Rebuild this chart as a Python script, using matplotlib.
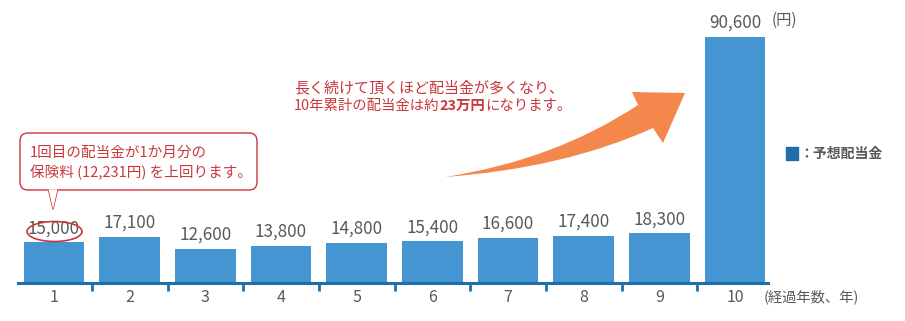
import matplotlib
matplotlib.use("Agg")
import matplotlib.pyplot as plt
from matplotlib.patches import FancyBboxPatch, Ellipse, Polygon, PathPatch
from matplotlib.path import Path

plt.rcParams['font.family'] = ['Noto Sans CJK JP', 'DejaVu Sans']

years = [1, 2, 3, 4, 5, 6, 7, 8, 9, 10]
dividends = [15000, 17100, 12600, 13800, 14800, 15400, 16600, 17400, 18300, 90600]
value_labels = ["15,000", "17,100", "12,600", "13,800", "14,800", "15,400",
                "16,600", "17,400", "18,300", "90,600"]
tick_labels = ["1", "2", "3", "4", "5", "6", "7", "8", "9", "10"]

BAR = "#4495d1"
AXIS = "#1f6ea8"
GRAY = "#595959"
RED = "#c9373c"
ORANGE = "#f4874b"

W, H = 905, 321
fig = plt.figure(figsize=(W / 100, H / 100), dpi=100)

ax = fig.add_axes([18 / W, (H - 283) / H, 750 / W, 283 / H])
ax.bar(years, dividends, width=0.8, color=BAR, zorder=2)
ax.set_xlim(0.524, 10.436)
ax.set_ylim(0, 104200)
for s in ["top", "right", "left"]:
    ax.spines[s].set_visible(False)
ax.spines["bottom"].set_color(AXIS)
ax.spines["bottom"].set_linewidth(2.2)
ax.set_yticks([])
ax.set_xticks([y + 0.5 for y in years[:-1]], minor=False)
ax.set_xticklabels([])
ax.tick_params(axis="x", length=6, width=2, color=AXIS, direction="out")
for x, lab in zip(years, tick_labels):
    ax.annotate(lab, xy=(x, 0), xytext=(0, -10.5), textcoords="offset points",
                ha="center", va="center", fontsize=11.5, color=GRAY)
for x, v, lab in zip(years, dividends, value_labels):
    ax.annotate(lab, xy=(x, v), xytext=(0, 10), textcoords="offset points",
                ha="center", va="center", fontsize=12.3, color=GRAY)

# overlay in pixel coordinates
ov = fig.add_axes([0, 0, 1, 1], zorder=5)
ov.set_xlim(0, W)
ov.set_ylim(H, 0)
ov.axis("off")
ov.patch.set_alpha(0)

ov.text(772, 20, "(円)", ha="left", va="center", fontsize=11, color=GRAY)
ov.text(764, 297, "(経過年数、年)", ha="left", va="center", fontsize=10.3, color=GRAY)

# legend
ov.add_patch(plt.Rectangle((786, 147), 12, 13, color=AXIS))
ov.text(799, 154, "：予想配当金", ha="left", va="center", fontsize=10,
        color=GRAY, fontweight="bold")

# callout
ov.add_patch(FancyBboxPatch((20, 133), 237, 57,
                            boxstyle="round,pad=0,rounding_size=8",
                            fc="white", ec=RED, lw=1.0))
ov.add_patch(Polygon([(48.5, 189.3), (53, 209), (57.5, 189.3)], closed=True,
                     fc="white", ec="none", zorder=3))
ov.plot([48.5, 53, 57.5], [190, 209, 190], color=RED, lw=1.0)
ov.text(30, 153, "1回目の配当金が1か月分の", ha="left", va="center",
        fontsize=10.5, color=RED)
ov.text(30, 172, "保険料 (12,231円) を上回ります。", ha="left", va="center",
        fontsize=10.5, color=RED)
ov.add_patch(Ellipse((54.5, 231.5), 55, 20, fc="none", ec=RED, lw=1.2))

# top message
ov.text(294, 88, "長く続けて頂くほど配当金が多くなり、", ha="left", va="center",
        fontsize=10.8, color=RED)
t1 = ov.text(294, 106, "10年累計の配当金は約", ha="left", va="center",
             fontsize=10.4, color=RED)
t2 = ov.annotate("23万円", xy=(1, 0.5), xycoords=t1, ha="left", va="center",
                 fontsize=10.4, color=RED, fontweight="bold")
ov.annotate("になります。", xy=(1, 0.5), xycoords=t2, ha="left", va="center",
            fontsize=10.4, color=RED)

# curved arrow
verts = [(445, 177), (555, 160), (638, 105), (632, 92), (685, 93),
         (663, 143), (653, 128), (565, 168), (445, 177), (445, 177)]
codes = [Path.MOVETO, Path.CURVE3, Path.CURVE3, Path.LINETO, Path.LINETO,
         Path.LINETO, Path.LINETO, Path.CURVE3, Path.CURVE3, Path.CLOSEPOLY]
ov.add_patch(PathPatch(Path(verts, codes), fc=ORANGE, ec="none"))

fig.savefig("out.png", dpi=100, facecolor="white")
